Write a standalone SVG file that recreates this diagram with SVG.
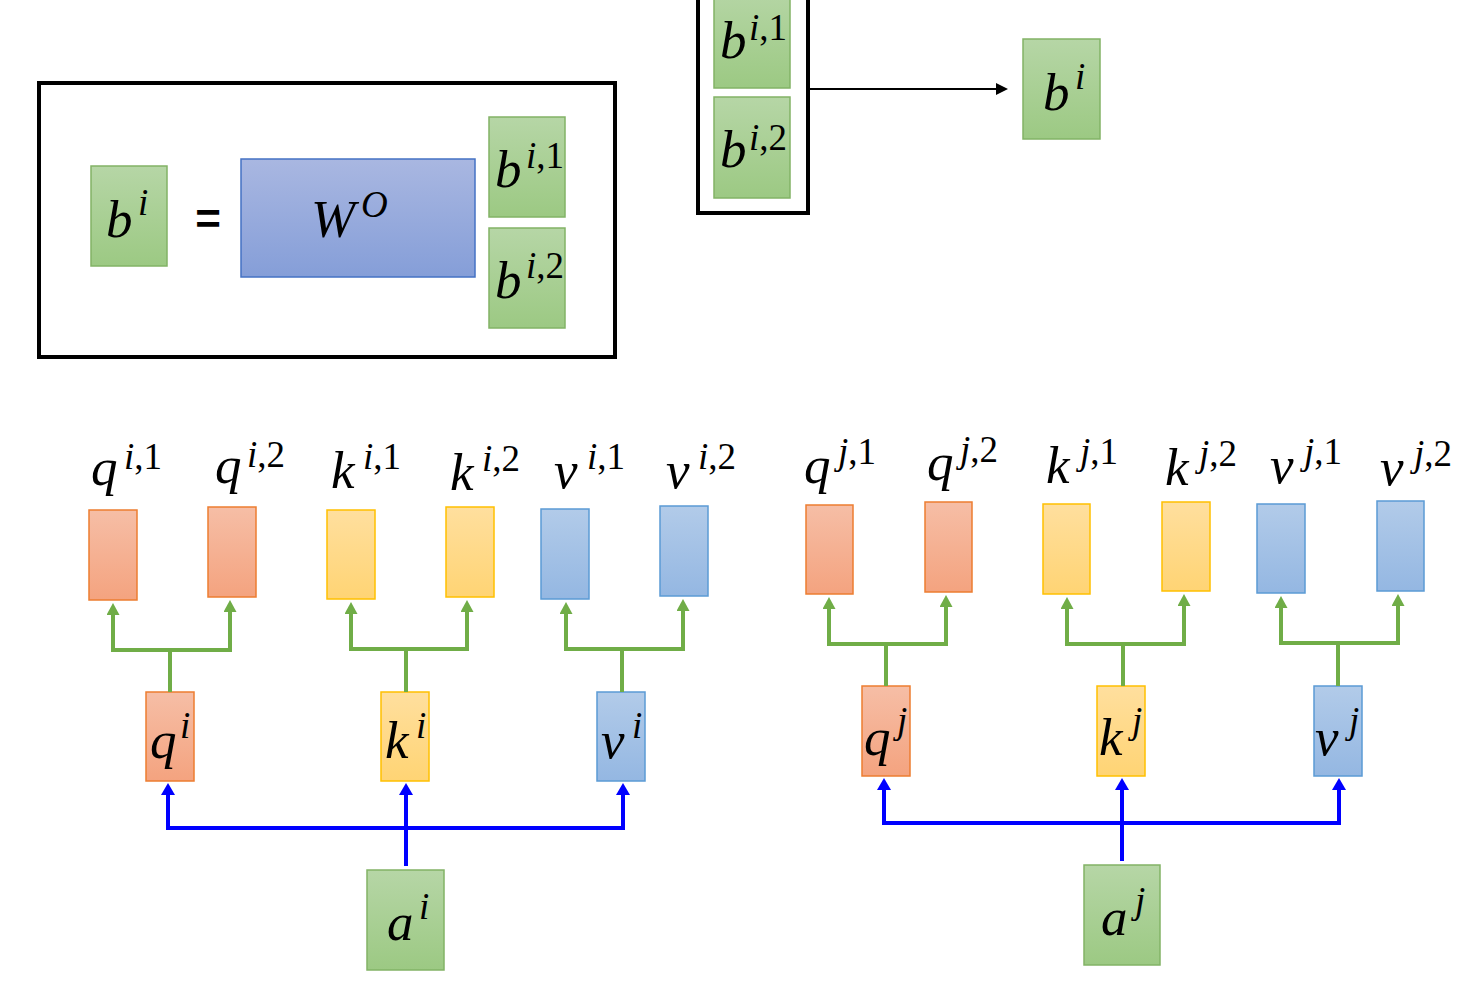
<svg xmlns="http://www.w3.org/2000/svg" width="1462" height="992" viewBox="0 0 1462 992">
<style>
.m{font-family:"Liberation Serif","Times New Roman",serif;font-style:italic;font-size:53px;fill:#000}
.s{font-size:37px}
.n{font-style:normal}
.frame{fill:#fff;stroke:#000;stroke-width:4}
.g{fill:url(#gG);stroke:#82b366;stroke-width:1.5}
.o{fill:url(#gO);stroke:#ed7d31;stroke-width:1.5}
.y{fill:url(#gY);stroke:#ffc000;stroke-width:1.5}
.b{fill:url(#gB);stroke:#5b9bd5;stroke-width:1.5}
.w{fill:url(#gW);stroke:#4472c4;stroke-width:1.5}
.gl{fill:none;stroke:#70ad47;stroke-width:4}
.bl{fill:none;stroke:#0000ff;stroke-width:4}
.ga{fill:none;stroke:#70ad47;stroke-width:4;marker-end:url(#mG)}
.ba{fill:none;stroke:#0000ff;stroke-width:4;marker-end:url(#mB)}
.kl{fill:none;stroke:#000;stroke-width:2;marker-end:url(#mK)}
</style>
<defs>
<linearGradient id="gG" x1="0" y1="0" x2="0" y2="1"><stop offset="0" stop-color="#b6d6a6"/><stop offset="1" stop-color="#9cc983"/></linearGradient>
<linearGradient id="gO" x1="0" y1="0" x2="0" y2="1"><stop offset="0" stop-color="#f6bea6"/><stop offset="1" stop-color="#f4a37f"/></linearGradient>
<linearGradient id="gY" x1="0" y1="0" x2="0" y2="1"><stop offset="0" stop-color="#ffdf9e"/><stop offset="1" stop-color="#ffd474"/></linearGradient>
<linearGradient id="gB" x1="0" y1="0" x2="0" y2="1"><stop offset="0" stop-color="#b2cbe9"/><stop offset="1" stop-color="#94b7e2"/></linearGradient>
<linearGradient id="gW" x1="0" y1="0" x2="0" y2="1"><stop offset="0" stop-color="#a9b7e1"/><stop offset="1" stop-color="#859ed8"/></linearGradient>
<marker id="mG" markerUnits="userSpaceOnUse" viewBox="0 0 12 13" refX="0" refY="6.5" markerWidth="12" markerHeight="13" orient="auto"><path d="M0,0 L12,6.5 L0,13 z" fill="#70ad47"/></marker>
<marker id="mB" markerUnits="userSpaceOnUse" viewBox="0 0 12 14" refX="0" refY="7" markerWidth="12" markerHeight="14" orient="auto"><path d="M0,0 L12,7 L0,14 z" fill="#0000ff"/></marker>
<marker id="mK" markerUnits="userSpaceOnUse" viewBox="0 0 12 12" refX="0" refY="6" markerWidth="12" markerHeight="12" orient="auto"><path d="M0,0 L12,6 L0,12 z" fill="#000"/></marker>
</defs>

<g id="frame-left">
<rect class="frame" x="39" y="83" width="576" height="274"/>
</g>
<g id="bi-left">
<rect class="g" x="91" y="166" width="76" height="100"/>
<text class="m" x="106" y="237">b<tspan class="s" x="138" y="215">i</tspan></text>
</g>
<g id="equals">
<text x="208" y="234" font-family="Liberation Sans, Arial, sans-serif" font-size="44" font-weight="bold" text-anchor="middle">=</text>
</g>
<g id="WO">
<rect class="w" x="241" y="159" width="234" height="118"/>
<text class="m" x="311" y="237">W<tspan class="s" x="361" y="217">O</tspan></text>
</g>
<g id="bi1-left">
<rect class="g" x="489" y="117" width="76" height="100"/>
<text class="m" x="495" y="187">b<tspan class="s" x="526" y="168">i<tspan class="n">,1</tspan></tspan></text>
</g>
<g id="bi2-left">
<rect class="g" x="489" y="228" width="76" height="100"/>
<text class="m" x="495" y="298">b<tspan class="s" x="526" y="278">i<tspan class="n">,2</tspan></tspan></text>
</g>

<g id="frame-right">
<rect class="frame" x="698" y="-10" width="110" height="223"/>
</g>
<g id="bi1-right">
<rect class="g" x="714" y="-12" width="76" height="100"/>
<text class="m" x="720" y="58">b<tspan class="s" x="749" y="40">i<tspan class="n">,1</tspan></tspan></text>
</g>
<g id="bi2-right">
<rect class="g" x="714" y="97" width="76" height="101"/>
<text class="m" x="720" y="167">b<tspan class="s" x="749" y="150">i<tspan class="n">,2</tspan></tspan></text>
</g>
<g id="bi-right">
<rect class="g" x="1023" y="39" width="77" height="100"/>
<text class="m" x="1043" y="110">b<tspan class="s" x="1075" y="89">i</tspan></text>
</g>

<g id="qi1"><rect class="o" x="89" y="510" width="48" height="90"/><text class="m" x="91" y="485">q<tspan class="s" x="124" y="469">i<tspan class="n">,1</tspan></tspan></text></g>
<g id="qi2"><rect class="o" x="208" y="507" width="48" height="90"/><text class="m" x="215" y="483">q<tspan class="s" x="247" y="467">i<tspan class="n">,2</tspan></tspan></text></g>
<g id="ki1"><rect class="y" x="327" y="510" width="48" height="89"/><text class="m" x="331" y="488">k<tspan class="s" x="363" y="469">i<tspan class="n">,1</tspan></tspan></text></g>
<g id="ki2"><rect class="y" x="446" y="507" width="48" height="90"/><text class="m" x="450" y="490">k<tspan class="s" x="482" y="471">i<tspan class="n">,2</tspan></tspan></text></g>
<g id="vi1"><rect class="b" x="541" y="509" width="48" height="90"/><text class="m" x="554" y="488">v<tspan class="s" x="587" y="469">i<tspan class="n">,1</tspan></tspan></text></g>
<g id="vi2"><rect class="b" x="660" y="506" width="48" height="90"/><text class="m" x="666" y="488">v<tspan class="s" x="698" y="469">i<tspan class="n">,2</tspan></tspan></text></g>
<g id="qi"><rect class="o" x="146" y="692" width="48" height="89"/><text class="m" x="150" y="758">q<tspan class="s" x="180" y="738">i</tspan></text></g>
<g id="ki"><rect class="y" x="381" y="692" width="48" height="89"/><text class="m" x="385" y="758">k<tspan class="s" x="416" y="738">i</tspan></text></g>
<g id="vi"><rect class="b" x="597" y="692" width="48" height="89"/><text class="m" x="601" y="758">v<tspan class="s" x="632" y="738">i</tspan></text></g>
<g id="ai"><rect class="g" x="367" y="870" width="77" height="100"/><text class="m" x="387" y="940">a<tspan class="s" x="419" y="919">i</tspan></text></g>

<g id="qj1"><rect class="o" x="806" y="505" width="47" height="89"/><text class="m" x="804" y="483">q<tspan class="s" x="838" y="464">j<tspan class="n">,1</tspan></tspan></text></g>
<g id="qj2"><rect class="o" x="925" y="502" width="47" height="90"/><text class="m" x="927" y="480">q<tspan class="s" x="960" y="462">j<tspan class="n">,2</tspan></tspan></text></g>
<g id="kj1"><rect class="y" x="1043" y="504" width="47" height="90"/><text class="m" x="1046" y="483">k<tspan class="s" x="1080" y="464">j<tspan class="n">,1</tspan></tspan></text></g>
<g id="kj2"><rect class="y" x="1162" y="502" width="48" height="89"/><text class="m" x="1165" y="485">k<tspan class="s" x="1199" y="466">j<tspan class="n">,2</tspan></tspan></text></g>
<g id="vj1"><rect class="b" x="1257" y="504" width="48" height="89"/><text class="m" x="1270" y="483">v<tspan class="s" x="1304" y="464">j<tspan class="n">,1</tspan></tspan></text></g>
<g id="vj2"><rect class="b" x="1377" y="501" width="47" height="90"/><text class="m" x="1380" y="485">v<tspan class="s" x="1414" y="466">j<tspan class="n">,2</tspan></tspan></text></g>
<g id="qj"><rect class="o" x="862" y="686" width="48" height="90"/><text class="m" x="864" y="755">q<tspan class="s" x="897" y="733">j</tspan></text></g>
<g id="kj"><rect class="y" x="1097" y="686" width="48" height="90"/><text class="m" x="1099" y="755">k<tspan class="s" x="1132" y="733">j</tspan></text></g>
<g id="vj"><rect class="b" x="1314" y="686" width="48" height="90"/><text class="m" x="1315" y="755">v<tspan class="s" x="1349" y="733">j</tspan></text></g>
<g id="aj"><rect class="g" x="1084" y="865" width="76" height="100"/><text class="m" x="1101" y="935">a<tspan class="s" x="1135" y="913">j</tspan></text></g>

<g id="connectors">
<path class="kl" d="M809 89 H996"/>
<path class="gl" d="M170 692 V650 M113 650 H232"/>
<path class="ga" d="M113 652 V615"/>
<path class="ga" d="M230 652 V612"/>
<path class="gl" d="M406 692 V649 M351 649 H469"/>
<path class="ga" d="M351 651 V614"/>
<path class="ga" d="M467 651 V612"/>
<path class="gl" d="M622 692 V649 M566 649 H685"/>
<path class="ga" d="M566 651 V614"/>
<path class="ga" d="M683 651 V611"/>
<path class="gl" d="M886 686 V644 M829 644 H948"/>
<path class="ga" d="M829 646 V609"/>
<path class="ga" d="M946 646 V607"/>
<path class="gl" d="M1123 686 V644 M1067 644 H1186"/>
<path class="ga" d="M1067 646 V609"/>
<path class="ga" d="M1184 646 V606"/>
<path class="gl" d="M1338 686 V643 M1281 643 H1400"/>
<path class="ga" d="M1281 645 V608"/>
<path class="ga" d="M1398 645 V606"/>
<path class="bl" d="M166 828 H625"/>
<path class="ba" d="M168 830 V795"/>
<path class="ba" d="M406 866 V795"/>
<path class="ba" d="M623 830 V795"/>
<path class="bl" d="M882 823 H1341"/>
<path class="ba" d="M884 825 V790"/>
<path class="ba" d="M1122 861 V790"/>
<path class="ba" d="M1339 825 V790"/>
</g>
</svg>
